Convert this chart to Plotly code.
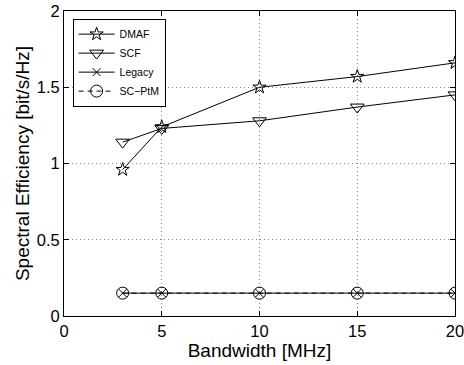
import plotly.graph_objects as go

bandwidth = [3, 5, 10, 15, 20]
dmaf = [0.96, 1.24, 1.50, 1.57, 1.66]
scf = [1.14, 1.23, 1.28, 1.37, 1.45]
legacy = [0.15, 0.15, 0.15, 0.15, 0.15]
sc_ptm = [0.15, 0.15, 0.15, 0.15, 0.15]

x_ticks = [0, 5, 10, 15, 20]
y_ticks = [0, 0.5, 1, 1.5, 2]
y_tick_labels = ["0", "0.5", "1", "1.5", "2"]

fig = go.Figure()
common = dict(mode="lines+markers")
fig.add_trace(go.Scatter(x=bandwidth, y=dmaf, name="DMAF", **common,
                         line=dict(color="black", width=1),
                         marker=dict(symbol="star-open", size=10, color="black", line=dict(width=1))))
fig.add_trace(go.Scatter(x=bandwidth, y=scf, name="SCF", **common,
                         line=dict(color="black", width=1),
                         marker=dict(symbol="triangle-down-open", size=12, color="black", line=dict(width=1))))
fig.add_trace(go.Scatter(x=bandwidth, y=legacy, name="Legacy", **common,
                         line=dict(color="black", width=1),
                         marker=dict(symbol="x-thin-open", size=8, color="black", line=dict(width=1, color="black"))))
fig.add_trace(go.Scatter(x=bandwidth, y=sc_ptm, name="SC\u2212PtM", **common,
                         line=dict(color="black", width=1, dash="5px,4px"),
                         marker=dict(symbol="circle-open", size=12, color="black", line=dict(width=1))))

axis_common = dict(showline=True, linecolor="black", linewidth=1, mirror="ticks",
                   ticks="inside", ticklen=5, tickcolor="black",
                   showgrid=True, gridcolor="#888888", griddash="1px,3px", gridwidth=1,
                   zeroline=False, tickfont=dict(size=16.5, color="black"),
                   title_font=dict(size=19, color="black"), automargin=False,
                   ticklabeloverflow="allow")

fig.update_xaxes(range=[0, 20], tickvals=x_ticks, title_text="Bandwidth [MHz]",
                 title_standoff=0, **axis_common)
fig.update_yaxes(range=[0, 2], tickvals=y_ticks, ticktext=y_tick_labels,
                 title_text="Spectral Efficiency [bit/s/Hz]", title_standoff=2, **axis_common)

fig.update_layout(
    width=464, height=365,
    margin=dict(l=64, r=9, t=11, b=49, autoexpand=False),
    paper_bgcolor="white", plot_bgcolor="white",
    font=dict(family="Liberation Sans, Arial, sans-serif", color="black"),
    showlegend=True,
    legend=dict(x=0.022, y=0.975, xanchor="left", yanchor="top",
                bgcolor="white", bordercolor="black", borderwidth=1,
                font=dict(size=10.5, color="black"), itemwidth=36,
                tracegroupgap=0),
)

fig.write_html("out.html")
